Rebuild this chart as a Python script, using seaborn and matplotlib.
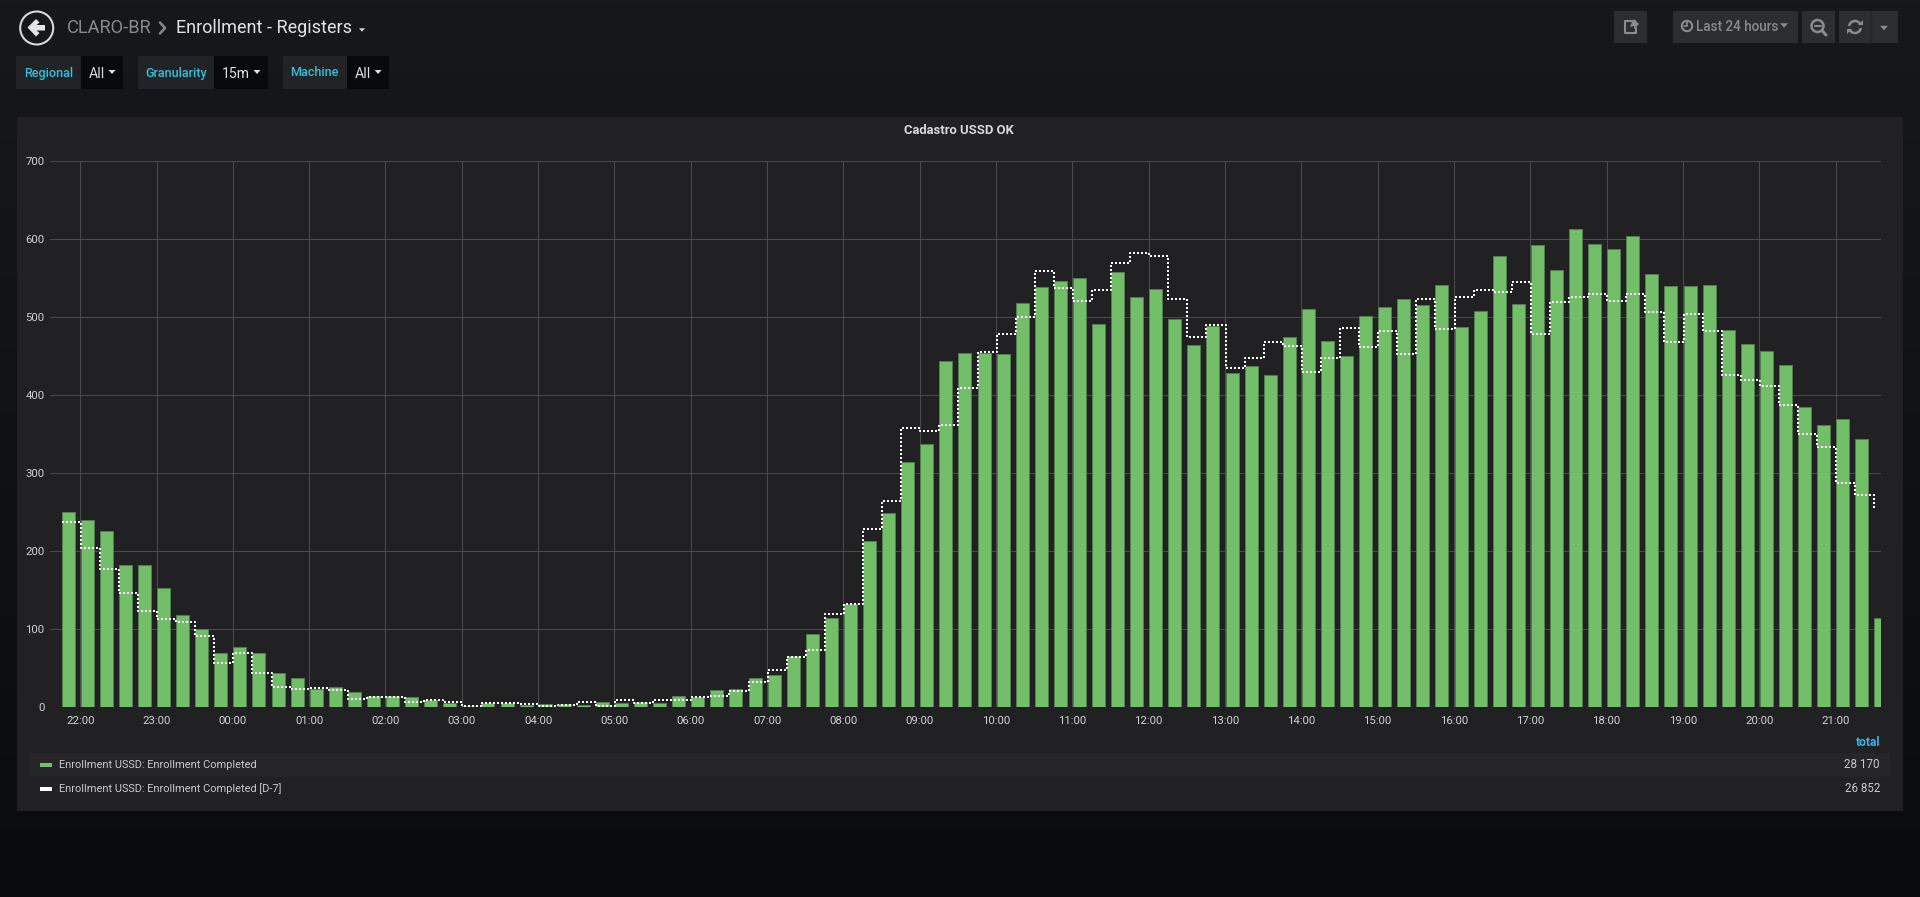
import numpy as np
import pandas as pd
import matplotlib
matplotlib.use("Agg")
import matplotlib.pyplot as plt
from matplotlib.patches import Rectangle, Circle, Polygon, Arc
import seaborn as sns

completed = [250, 240, 226, 182, 182, 153, 118, 100, 69, 77, 69, 44, 37, 24, 26, 20,
             15, 14, 13, 9, 6, 2, 6, 5, 3, 4, 4, 3, 7, 6, 7, 5,
             14, 13, 22, 24, 38, 42, 66, 94, 115, 133, 213, 249, 315, 338, 444, 454,
             454, 453, 518, 539, 546, 551, 491, 558, 526, 536, 498, 464, 489, 428, 438, 426,
             475, 511, 469, 451, 502, 513, 523, 516, 541, 488, 508, 579, 517, 593, 560, 613,
             594, 587, 604, 556, 540, 540, 542, 484, 466, 457, 439, 385, 362, 370, 344, 114]
d7 = [238, 204, 177, 147, 123, 113, 110, 92, 57, 70, 44, 26, 24, 25, 22, 11,
      13, 13, 7, 9, 7, 2, 6, 6, 4, 2, 3, 7, 2, 9, 6, 10,
      10, 13, 14, 21, 32, 48, 65, 74, 120, 133, 229, 264, 358, 354, 362, 409,
      456, 479, 500, 559, 538, 521, 535, 570, 583, 579, 523, 475, 490, 435, 448, 468,
      463, 430, 448, 486, 462, 482, 453, 524, 485, 526, 535, 532, 545, 478, 520, 526,
      530, 521, 530, 507, 468, 504, 482, 426, 420, 412, 388, 350, 334, 288, 272, 253]
times = list(pd.date_range("2019-01-01 21:45", periods=96, freq="15min").strftime("%H:%M"))
hour_labels = ["22:00", "23:00", "00:00", "01:00", "02:00", "03:00", "04:00", "05:00",
               "06:00", "07:00", "08:00", "09:00", "10:00", "11:00", "12:00", "13:00",
               "14:00", "15:00", "16:00", "17:00", "18:00", "19:00", "20:00", "21:00"]
y_ticks = [0, 100, 200, 300, 400, 500, 600, 700]
series_names = ["Enrollment USSD: Enrollment Completed", "Enrollment USSD: Enrollment Completed [D-7]"]
series_totals = ["28 170", "26 852"]

W, H = 1920, 897
GREEN, EDGE, GRID = "#73bf69", "#4f7d4b", "#4b4b4d"
PANEL, ROW = "#212124", "#262628"
CYAN = "#33c0d8"
TEXT = "#d0d1d2"
FONT = ["Roboto", "DejaVu Sans"]

sns.set_theme(style="dark", rc={"axes.facecolor": "none", "figure.facecolor": "#161719"})
plt.rcParams["font.family"] = FONT

fig = plt.figure(figsize=(W / 100, H / 100), dpi=100)

# page chrome, in pixel coordinates
bg = fig.add_axes([0, 0, 1, 1], zorder=0)
bg.set_xlim(0, W); bg.set_ylim(H, 0); bg.axis("off")
top, bottom = np.array([23, 24, 26]) / 255, np.array([10, 11, 13]) / 255
grad = np.linspace(0, 1, 256)[:, None, None] * (bottom - top) + top
bg.imshow(grad, extent=(0, W, H, 0), aspect="auto", zorder=0)
bg.set_xlim(0, W); bg.set_ylim(H, 0)

def box(x0, y0, x1, y1, color, z=1):
    bg.add_patch(Rectangle((x0, y0), x1 - x0, y1 - y0, fc=color, ec="none", zorder=z))

def label(x, y, s, size, color=TEXT, ha="left", weight="normal", z=5):
    bg.text(x, y, s, fontsize=size * 72 / 100, color=color, ha=ha, va="center",
            fontweight=weight, zorder=z, family=FONT)

def caret(cx, cy, w, h, color):
    bg.add_patch(Polygon([(cx - w / 2, cy - h / 2), (cx + w / 2, cy - h / 2), (cx, cy + h / 2)],
                         fc=color, ec="none", zorder=5))

box(17, 117, 1903, 811, PANEL)
box(29, 753, 1890, 777, ROW, 2)

# back icon
bg.add_patch(Circle((36.7, 28), 16.5, fc="none", ec="#d8d9da", lw=1.5, zorder=5))
bg.add_patch(Polygon([(27.5, 27.5), (36, 19), (39.5, 22.5), (36.5, 25), (45, 25), (45, 30.5),
                      (36.5, 30.5), (39.5, 33), (36, 36.5)], fc="#e4e4e4", ec="none", zorder=5))

# breadcrumb
label(67, 28, "CLARO-BR", 18.3, "#8a8a8a")
bg.plot([160, 165, 160], [22.5, 28, 33.5], color="#8a8a8a", lw=1.8, zorder=5)
label(176, 28, "Enrollment - Registers", 18, "#e2e3e4")
caret(362, 30, 6, 3.5, "#d8d9da")

# template variables
for x0, x1, x2, name, val in [(16, 81, 122.5, "Regional", "All"),
                              (138, 213.5, 267.5, "Granularity", "15m"),
                              (283, 346.5, 388.6, "Machine", "All")]:
    box(x0, 56, x1, 89, "#222327")
    box(x1, 56, x2, 89, "#08090b")
    label((x0 + x1) / 2, 73, name, 12.6, CYAN, ha="center", weight="medium")
    label(x1 + 8, 74, val, 14, "#dfe0e1")
    caret(x2 - 10.5, 72, 7, 4, "#dfe0e1")

# toolbar
BTN = "#2c2d2f"
ICON = "#8b8b8b"
for x0, x1 in [(1614, 1647), (1673, 1798), (1802, 1835), (1839, 1898)]:
    box(x0, 11, x1, 43, BTN)
bg.plot([1870.5, 1870.5], [11, 43], color="#232426", lw=1, zorder=3)
bg.plot([1635, 1625, 1625, 1636, 1636], [21, 21, 33, 33, 28], color=ICON, lw=1.5, zorder=5)
bg.add_patch(Polygon([(1630, 27), (1632, 22), (1634, 22), (1634, 19), (1639, 24), (1634, 29), (1634, 26)],
                     fc=ICON, ec="none", zorder=5))
bg.add_patch(Circle((1687, 26), 5.2, fc="none", ec=ICON, lw=1.5, zorder=5))
bg.plot([1687, 1687, 1684], [22.5, 26.5, 26.5], color=ICON, lw=1.2, zorder=5)
label(1696, 27, "Last 24 hours", 13.5, ICON, weight="medium")
caret(1784, 25.5, 8, 4.5, ICON)
bg.add_patch(Circle((1817.5, 26), 6, fc="none", ec=ICON, lw=1.8, zorder=5))
bg.plot([1814.5, 1820.5], [26, 26], color=ICON, lw=1.5, zorder=5)
bg.plot([1822, 1826], [30.5, 35], color=ICON, lw=2.2, zorder=5)
# refresh: two arcs with arrow heads
bg.add_patch(Arc((1855, 27), 12, 12, theta1=190, theta2=340, ec=ICON, lw=1.8, zorder=5))
bg.add_patch(Arc((1855, 27), 12, 12, theta1=10, theta2=160, ec=ICON, lw=1.8, zorder=5))
bg.add_patch(Polygon([(1858, 25), (1863, 25), (1863, 20)], fc=ICON, ec="none", zorder=5))
bg.add_patch(Polygon([(1852, 29), (1847, 29), (1847, 34)], fc=ICON, ec="none", zorder=5))
caret(1884, 28, 8, 4.5, ICON)

# panel title
label(959, 131, "Cadastro USSD OK", 13, "#d8d9da", ha="center", weight="bold")

# legend table
label(1880, 743, "total", 12, "#33b5e5", ha="right", weight="bold")
for yy, name, total, col in zip([765, 789], series_names, series_totals, [GREEN, "#ffffff"]):
    box(40, yy - 2, 52, yy + 2, col, 3)
    label(59, yy, name, 11, "#c8c9ca")
    label(1880, yy, total, 11.6, "#c8c9ca", ha="right")

# chart
bar_w = 13 / 19.08
ax = fig.add_axes([50 / W, 1 - 707.3 / H, (1881 - 50) / W, (707.3 - 161.3) / H], zorder=2)
df = pd.DataFrame({"time": times, "completed": completed, "d7": d7,
                   "edge": np.arange(len(times)) - bar_w / 2})

sns.barplot(data=df, x="time", y="completed", order=times, width=bar_w, color=GREEN, saturation=1,
            edgecolor=EDGE, linewidth=0.72, ax=ax, zorder=2)
sns.lineplot(data=df, x="edge", y="d7", estimator=None, sort=False, drawstyle="steps-post",
             color="white", linewidth=1.44, linestyle=(0, (1, 1)), ax=ax, zorder=3)

ax.set_ylim(0, 700)
ax.set_xlim(-0.953, 95.01)
ax.set_yticks(y_ticks)
ax.set_xticks([times.index(h) - bar_w / 2 - 0.03 for h in hour_labels])
ax.set_xticklabels(hour_labels)
ax.set_xlabel(""); ax.set_ylabel("")
ax.set_facecolor("none")
ax.grid(True, color=GRID, linewidth=0.72)
ax.set_axisbelow(True)
ax.tick_params(axis="both", length=0, labelsize=8.2, labelcolor=TEXT, colors=TEXT)
ax.tick_params(axis="x", pad=6.2)
ax.tick_params(axis="y", pad=4)
for s in ax.spines.values():
    s.set_visible(False)

fig.savefig("out.png", dpi=100)
